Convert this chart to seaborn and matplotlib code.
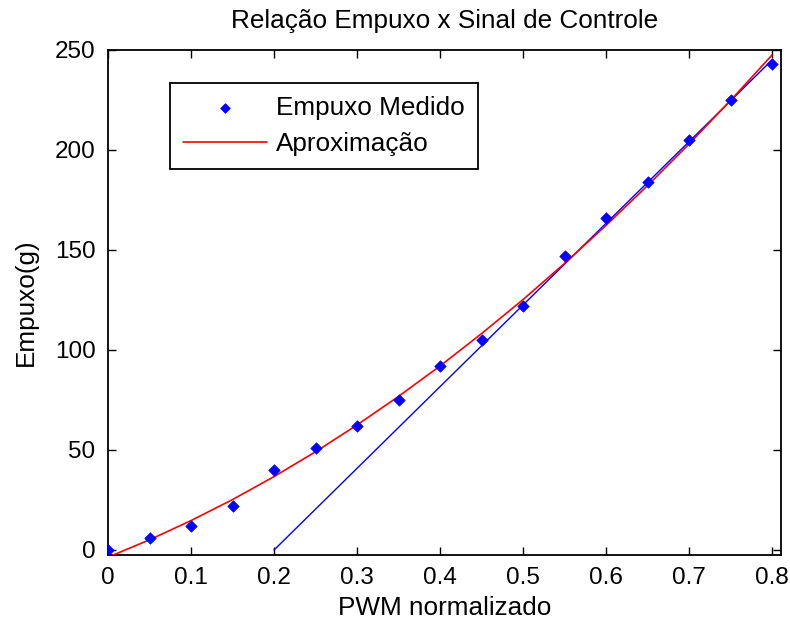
import matplotlib
matplotlib.use("Agg")
import matplotlib.pyplot as plt
import seaborn as sns
import pandas as pd

# Measured thrust at each normalized PWM level
pwm = [0.0, 0.05, 0.10, 0.15, 0.20, 0.25, 0.30, 0.35, 0.40,
       0.45, 0.50, 0.55, 0.60, 0.65, 0.70, 0.75, 0.80]
empuxo = [0, 6, 12, 22, 40, 51, 62, 75, 92,
          105, 122, 147, 166, 184, 205, 225, 243]

# Fitted approximation curve
pwm_fit = [0.0, 0.05, 0.10, 0.15, 0.20, 0.25, 0.30, 0.35, 0.40,
           0.45, 0.50, 0.55, 0.60, 0.65, 0.70, 0.75, 0.80]
empuxo_fit = [-3.6, 5.1, 14.7, 25.2, 36.7, 49.1, 62.5, 76.8, 92.0,
              108.2, 125.2, 143.3, 162.3, 182.2, 203.0, 224.8, 247.5]

# Linear region
pwm_lin = [0.2, 0.8]
empuxo_lin = [0, 245]

title = "Relação Empuxo x Sinal de Controle"
xlabel = "PWM normalizado"
ylabel = "Empuxo(g)"
xticks = [0, 0.1, 0.2, 0.3, 0.4, 0.5, 0.6, 0.7, 0.8]
xticklabels = ["0", "0.1", "0.2", "0.3", "0.4", "0.5", "0.6", "0.7", "0.8"]
yticks = [0, 50, 100, 150, 200, 250]
yticklabels = ["0", "50", "100", "150", "200", "250"]

sns.set_theme(style="white")
plt.rcParams["font.family"] = ["Liberation Sans", "DejaVu Sans"]
plt.rcParams["text.color"] = "black"
plt.rcParams["axes.labelcolor"] = "black"

fig = plt.figure(figsize=(7.9, 6.25), dpi=100)
ax = fig.add_axes([108 / 790, 1 - 555 / 625, 673 / 790, 505 / 625])

df_pts = pd.DataFrame({"pwm": pwm, "empuxo": empuxo})
df_fit = pd.DataFrame({"pwm": pwm_fit, "empuxo": empuxo_fit})
df_lin = pd.DataFrame({"pwm": pwm_lin, "empuxo": empuxo_lin})

sns.lineplot(data=df_lin, x="pwm", y="empuxo", ax=ax, color="blue",
             linewidth=1.0, legend=False, zorder=2)
sns.lineplot(data=df_fit, x="pwm", y="empuxo", ax=ax, color="red",
             linewidth=1.2, label="Aproximação", zorder=3)
sns.scatterplot(data=df_pts, x="pwm", y="empuxo", ax=ax, color="blue",
                marker="D", s=34, edgecolor="blue", linewidth=0.5,
                label="Empuxo Medido", zorder=4)

ax.set_xlim(0, 0.8108)
ax.set_ylim(-2.5, 250)
ax.set_xticks(xticks)
ax.set_xticklabels(xticklabels)
ax.set_yticks(yticks)
ax.set_yticklabels(yticklabels)

for lab in ax.get_xticklabels() + ax.get_yticklabels():
    lab.set_fontsize(17.5)
    lab.set_color("black")

ax.tick_params(axis="both", direction="in", length=6, width=1.0,
               top=True, right=True, bottom=True, left=True, color="black")
ax.tick_params(axis="x", pad=9)
ax.tick_params(axis="y", pad=9)

for s in ax.spines.values():
    s.set_color("black")
    s.set_linewidth(1.3)

ax.set_title(title, fontsize=18.8, pad=16)
ax.set_xlabel(xlabel, fontsize=18.8, labelpad=5)
ax.set_ylabel(ylabel, fontsize=18.8, labelpad=12)

handles, labels = ax.get_legend_handles_labels()
order = [labels.index("Empuxo Medido"), labels.index("Aproximação")]
leg = ax.legend([handles[i] for i in order], [labels[i] for i in order],
                loc="upper left", bbox_to_anchor=(62 / 673, 472 / 505),
                borderaxespad=0, fontsize=18.8, frameon=True, fancybox=False,
                handlelength=3.2, handletextpad=0.35, borderpad=0.5,
                labelspacing=0.45, edgecolor="black", framealpha=1,
                markerscale=0.85)
leg.get_frame().set_linewidth(1.3)

fig.savefig("out.png", dpi=100, facecolor="white")
